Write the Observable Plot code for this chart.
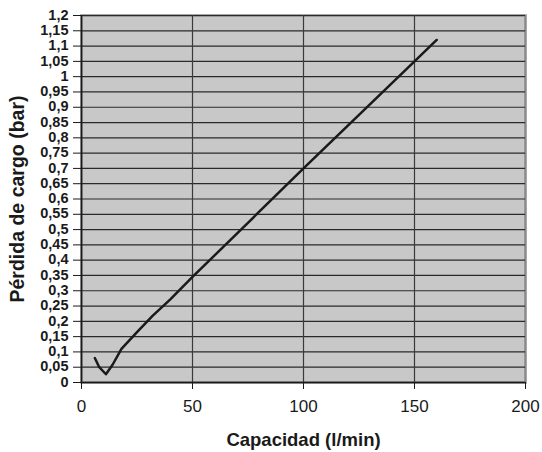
<!DOCTYPE html>
<html><head><meta charset="utf-8">
<script src="https://cdn.jsdelivr.net/npm/d3@7"></script>
<script src="https://cdn.jsdelivr.net/npm/@observablehq/plot@0.6"></script>
<style>body{margin:0;background:#fff;}</style>
</head><body><div id="chart"></div>
<script>
const capacidad = [6, 8, 11, 14, 18, 25, 32, 40, 50, 100, 150, 160];
const perdida = [0.08, 0.05, 0.027, 0.058, 0.11, 0.165, 0.218, 0.272, 0.345, 0.70, 1.05, 1.12];
const xTicks = [0, 50, 100, 150, 200];
const yTicks = [0, 0.05, 0.1, 0.15, 0.2, 0.25, 0.3, 0.35, 0.4, 0.45, 0.5, 0.55, 0.6, 0.65, 0.7, 0.75, 0.8, 0.85, 0.9, 0.95, 1, 1.05, 1.1, 1.15, 1.2];
const xGrid = [50, 100, 150];
const xLabel = "Capacidad (l/min)";
const yLabel = "Pérdida de cargo (bar)";

const data = capacidad.map((x, i) => ({x, y: perdida[i]}));
const fmt = d => String(+d.toFixed(2)).replace(".", ",");
const font = "'Liberation Sans', Arial, sans-serif";

const chart = Plot.plot({
  width: 542, height: 452,
  marginLeft: 81, marginRight: 17, marginTop: 15, marginBottom: 70,
  style: {fontFamily: font, background: "#fff", color: "#1a1a1a"},
  x: {domain: [0, 200]},
  y: {domain: [0, 1.2]},
  marks: [
    Plot.frame({fill: "#c8c8c8", stroke: "#8a8a8a", strokeWidth: 2.5}),
    Plot.gridY(yTicks, {stroke: "#2a2a2a", strokeOpacity: 1, strokeWidth: 1.2}),
    Plot.gridX(xGrid, {stroke: "#3a3a3a", strokeOpacity: 1, strokeWidth: 1.2}),
    Plot.axisX(xTicks, {tickSize: 7, tickPadding: 10, fontSize: 17, label: null, stroke: "#1a1a1a", tickFormat: d => d}),
    Plot.axisY(yTicks, {tickSize: 8, tickPadding: 5, fontSize: 14.5, fontWeight: "bold", tickFormat: fmt, label: null, stroke: "#1a1a1a", lineHeight: 0.9}),
    Plot.ruleX([0], {stroke: "#1a1a1a", strokeWidth: 1.5}),
    Plot.ruleY([0], {stroke: "#1a1a1a", strokeWidth: 1.5}),
    Plot.line(data, {x: "x", y: "y", stroke: "#1a1a1a", strokeWidth: 2.5, curve: "linear"}),
    Plot.text([xLabel], {frameAnchor: "bottom", dy: 58, fontSize: 18.5, fontWeight: "bold", fill: "#1a1a1a", lineAnchor: "middle", textAnchor: "middle"}),
    Plot.text([yLabel], {frameAnchor: "left", dx: -64, rotate: -90, fontSize: 19.5, fontWeight: "bold", fill: "#1a1a1a", lineAnchor: "middle", textAnchor: "middle"})
  ]
});
document.getElementById("chart").appendChild(chart);
</script>
</body></html>
